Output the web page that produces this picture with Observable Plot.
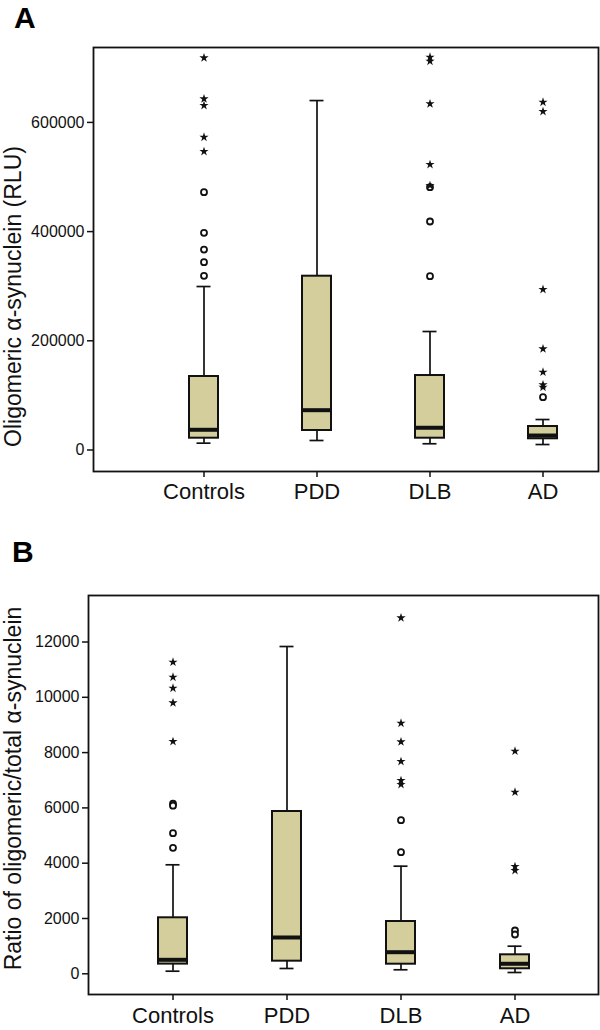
<!DOCTYPE html>
<html>
<head>
<meta charset="utf-8">
<script src="https://cdn.jsdelivr.net/npm/d3@7"></script>
<script src="https://cdn.jsdelivr.net/npm/@observablehq/plot@0.6"></script>
<style>
  body { margin: 0; background: white; }
  #wrap { position: relative; width: 600px; height: 1030px; font-family: "Liberation Sans", Arial, sans-serif; }
  .panel { position: absolute; left: 0; z-index: 1; }
  .letter { position: absolute; z-index: 2; font-size: 30px; line-height: 30px; font-weight: bold; color: #000; }
</style>
</head>
<body>
<div id="wrap">
  <div class="panel" id="pa" style="top:0px;"></div>
  <div class="panel" id="pb" style="top:540px;"></div>
  <div class="letter" style="left:14px; top:3px;">A</div>
  <div class="letter" style="left:12px; top:537px;">B</div>
</div>
<script>
// ---- Data ----
const categories = ["Controls", "PDD", "DLB", "AD"];

// Panel A: oligomeric alpha-synuclein (RLU)
const oligoWhiskerLow  = [12500, 17400, 11400, 10000];
const oligoQ1          = [21600, 35700, 21600, 20500];
const oligoMedian      = [37000, 72900, 40700, 26500];
const oligoQ3          = [134600, 318300, 136400, 43000];
const oligoWhiskerHigh = [299400, 640000, 217000, 55800];
const oligoYTicks = [0, 200000, 400000, 600000];
const oligoCircles = [
  ["Controls", 472200], ["Controls", 397800], ["Controls", 367000], ["Controls", 344000], ["Controls", 319000],
  ["DLB", 481300], ["DLB", 418500], ["DLB", 318300],
  ["AD", 96700]
];
const oligoStars = [
  ["Controls", 718300], ["Controls", 643200], ["Controls", 631000], ["Controls", 572900], ["Controls", 546700],
  ["DLB", 719400], ["DLB", 712100], ["DLB", 634100], ["DLB", 522900], ["DLB", 484400],
  ["AD", 637000], ["AD", 620000], ["AD", 294000], ["AD", 185300], ["AD", 142500], ["AD", 119400], ["AD", 115000]
];

// Panel B: ratio oligomeric / total alpha-synuclein
const ratioWhiskerLow  = [94, 192, 145, 47];
const ratioQ1          = [350, 456, 347, 181];
const ratioMedian      = [506, 1313, 781, 362];
const ratioQ3          = [2025, 5870, 1891, 687];
const ratioWhiskerHigh = [3942, 11837, 3892, 998];
const ratioYTicks = [0, 2000, 4000, 6000, 8000, 10000, 12000];
const ratioCircles = [
  ["Controls", 6150], ["Controls", 6080], ["Controls", 5085], ["Controls", 4557],
  ["DLB", 5555], ["DLB", 4398],
  ["AD", 1566], ["AD", 1421]
];
const ratioStars = [
  ["Controls", 11270], ["Controls", 10727], ["Controls", 10329], ["Controls", 9801], ["Controls", 8401],
  ["DLB", 12875], ["DLB", 9063], ["DLB", 8390], ["DLB", 7678], ["DLB", 6991], ["DLB", 6846],
  ["AD", 8051], ["AD", 6568], ["AD", 3881], ["AD", 3736]
];

const yLabelA = "Oligomeric α-synuclein (RLU)";
const yLabelB = "Ratio of oligomeric/total α-synuclein";

// ---- Styles ----
const boxFill = "#d3ce9b";
const ink = "#111";
const font = "Liberation Sans, Arial, Helvetica, sans-serif";

function boxRows(lo, q1, med, q3, hi) {
  return categories.map((c, i) => ({cat: c, lo: lo[i], q1: q1[i], med: med[i], q3: q3[i], hi: hi[i]}));
}

function boxMarks(rows, circles, stars) {
  return [
    Plot.ruleX(rows, {x: "cat", y1: "lo", y2: "hi", stroke: ink, strokeWidth: 1.7}),
    Plot.tickY(rows, {x: "cat", y: "hi", stroke: ink, strokeWidth: 1.7, insetLeft: 7.5, insetRight: 7.5}),
    Plot.tickY(rows, {x: "cat", y: "lo", stroke: ink, strokeWidth: 1.7, insetLeft: 7.5, insetRight: 7.5}),
    Plot.barY(rows, {x: "cat", y1: "q1", y2: "q3", fill: boxFill, stroke: ink, strokeWidth: 2}),
    Plot.tickY(rows, {x: "cat", y: "med", stroke: ink, strokeWidth: 4}),
    Plot.dot(circles, {x: d => d[0], y: d => d[1], symbol: "circle", r: 3, stroke: ink, strokeWidth: 1.8, fill: "white"}),
    Plot.dot(stars, {x: d => d[0], y: d => d[1], symbol: "star", r: 2.9, fill: ink, stroke: "none"})
  ];
}

const chartA = Plot.plot({
  width: 600, height: 510,
  marginTop: 47, marginBottom: 39, marginLeft: 93, marginRight: 2,
  style: {fontFamily: font, background: "white", color: ink},
  x: {type: "band", domain: categories, paddingInner: 0.7414, paddingOuter: 0.5915, align: 0.701, label: null},
  y: {domain: [-39400, 737200], label: null},
  marks: [
    ...boxMarks(boxRows(oligoWhiskerLow, oligoQ1, oligoMedian, oligoQ3, oligoWhiskerHigh), oligoCircles, oligoStars),
    Plot.frame({stroke: ink, strokeWidth: 1.8}),
    Plot.axisY({ticks: oligoYTicks, tickFormat: d3.format("d"), tickSize: 6, tickPadding: 3, fontSize: 16, strokeWidth: 1.5, label: null}),
    Plot.axisX({tickSize: 6, tickPadding: 6, fontSize: 22, strokeWidth: 1.5, label: null}),
    Plot.text([yLabelA], {text: d => d, frameAnchor: "left", rotate: -90, dx: -80, dy: 37, fontSize: 23, textAnchor: "middle", lineAnchor: "middle", fill: ink})
  ]
});
document.getElementById("pa").appendChild(chartA);

const chartB = Plot.plot({
  width: 600, height: 490,
  marginTop: 55, marginBottom: 36, marginLeft: 88, marginRight: 2,
  style: {fontFamily: font, background: "white", color: ink},
  x: {type: "band", domain: categories, paddingInner: 0.746, paddingOuter: 0.5904, align: 0.5, label: null},
  y: {domain: [-749, 13682], label: null},
  marks: [
    ...boxMarks(boxRows(ratioWhiskerLow, ratioQ1, ratioMedian, ratioQ3, ratioWhiskerHigh), ratioCircles, ratioStars),
    Plot.frame({stroke: ink, strokeWidth: 1.8}),
    Plot.axisY({ticks: ratioYTicks, tickFormat: d3.format("d"), tickSize: 6, tickPadding: 3, fontSize: 16, strokeWidth: 1.5, label: null}),
    Plot.axisX({tickSize: 6, tickPadding: 6.5, fontSize: 22, strokeWidth: 1.5, label: null}),
    Plot.text([yLabelB], {text: d => d, frameAnchor: "left", rotate: -90, dx: -75, dy: -6.5, fontSize: 23, textAnchor: "middle", lineAnchor: "middle", fill: ink})
  ]
});
document.getElementById("pb").appendChild(chartB);
</script>
</body>
</html>
